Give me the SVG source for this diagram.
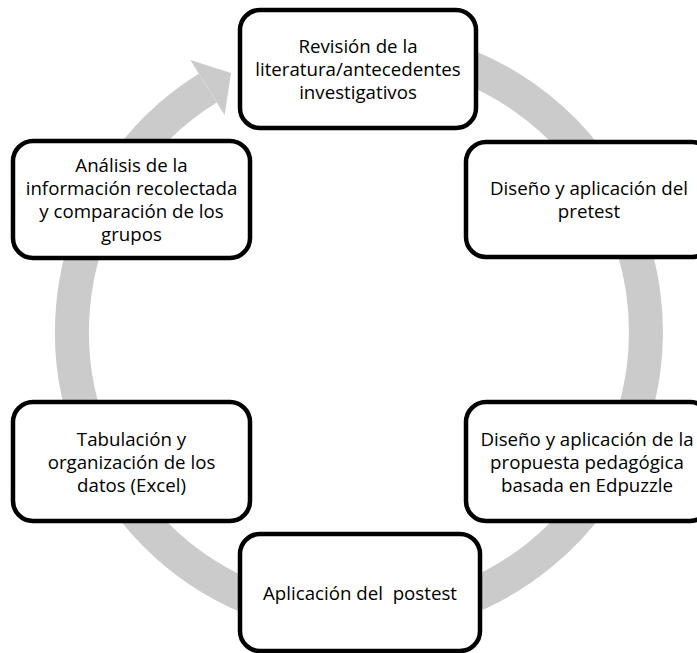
<svg xmlns="http://www.w3.org/2000/svg" width="697" height="653" viewBox="0 0 697 653">
<style>
.box{fill:#ffffff;stroke:#000000;stroke-width:4.5}
.t{font-family:"Open Sans","Liberation Sans",sans-serif;font-size:18.7px;fill:#000000;text-anchor:middle;white-space:pre}
.ring{fill:none;stroke:#cbcbcb;stroke-width:34}
</style>
<rect x="0" y="0" width="697" height="653" fill="#ffffff"/>
<g id="connectors">
<path class="ring" d="M 408.8 49.4 A 287 287 0 1 1 207.7 88.1"/>
<polygon points="190.4,60 231,73 224.6,115.3" fill="#cbcbcb"/>
</g>
<g id="node1">
<rect class="box" x="240" y="10" width="236" height="118" rx="20"/>
<text class="t" x="358" y="53">Revisión de la</text>
<text class="t" x="358" y="76">literatura/antecedentes</text>
<text class="t" x="358" y="99">investigativos</text>
</g>
<g id="node2">
<rect class="box" x="466" y="142" width="246" height="115" rx="20"/>
<text class="t" x="589" y="195">Diseño y aplicación del</text>
<text class="t" x="589" y="218">pretest</text>
</g>
<g id="node3">
<rect class="box" x="466" y="402" width="244" height="119" rx="20"/>
<text class="t" x="587" y="446">Diseño y aplicación de la</text>
<text class="t" x="587" y="469">propuesta pedagógica</text>
<text class="t" x="587" y="492">basada en Edpuzzle</text>
</g>
<g id="node4">
<rect class="box" x="240" y="534" width="240" height="117" rx="20"/>
<text class="t" x="360" y="600" xml:space="preserve">Aplicación del  postest</text>
</g>
<g id="node5">
<rect class="box" x="13" y="402" width="237" height="119" rx="20"/>
<text class="t" x="131.5" y="446">Tabulación y</text>
<text class="t" x="131.5" y="469">organización de los</text>
<text class="t" x="131.5" y="492">datos (Excel)</text>
</g>
<g id="node6">
<rect class="box" x="13" y="141" width="237" height="117" rx="20"/>
<text class="t" x="131.5" y="172">Análisis de la</text>
<text class="t" x="131.5" y="195">información recolectada</text>
<text class="t" x="131.5" y="218">y comparación de los</text>
<text class="t" x="131.5" y="241">grupos</text>
</g>
</svg>
